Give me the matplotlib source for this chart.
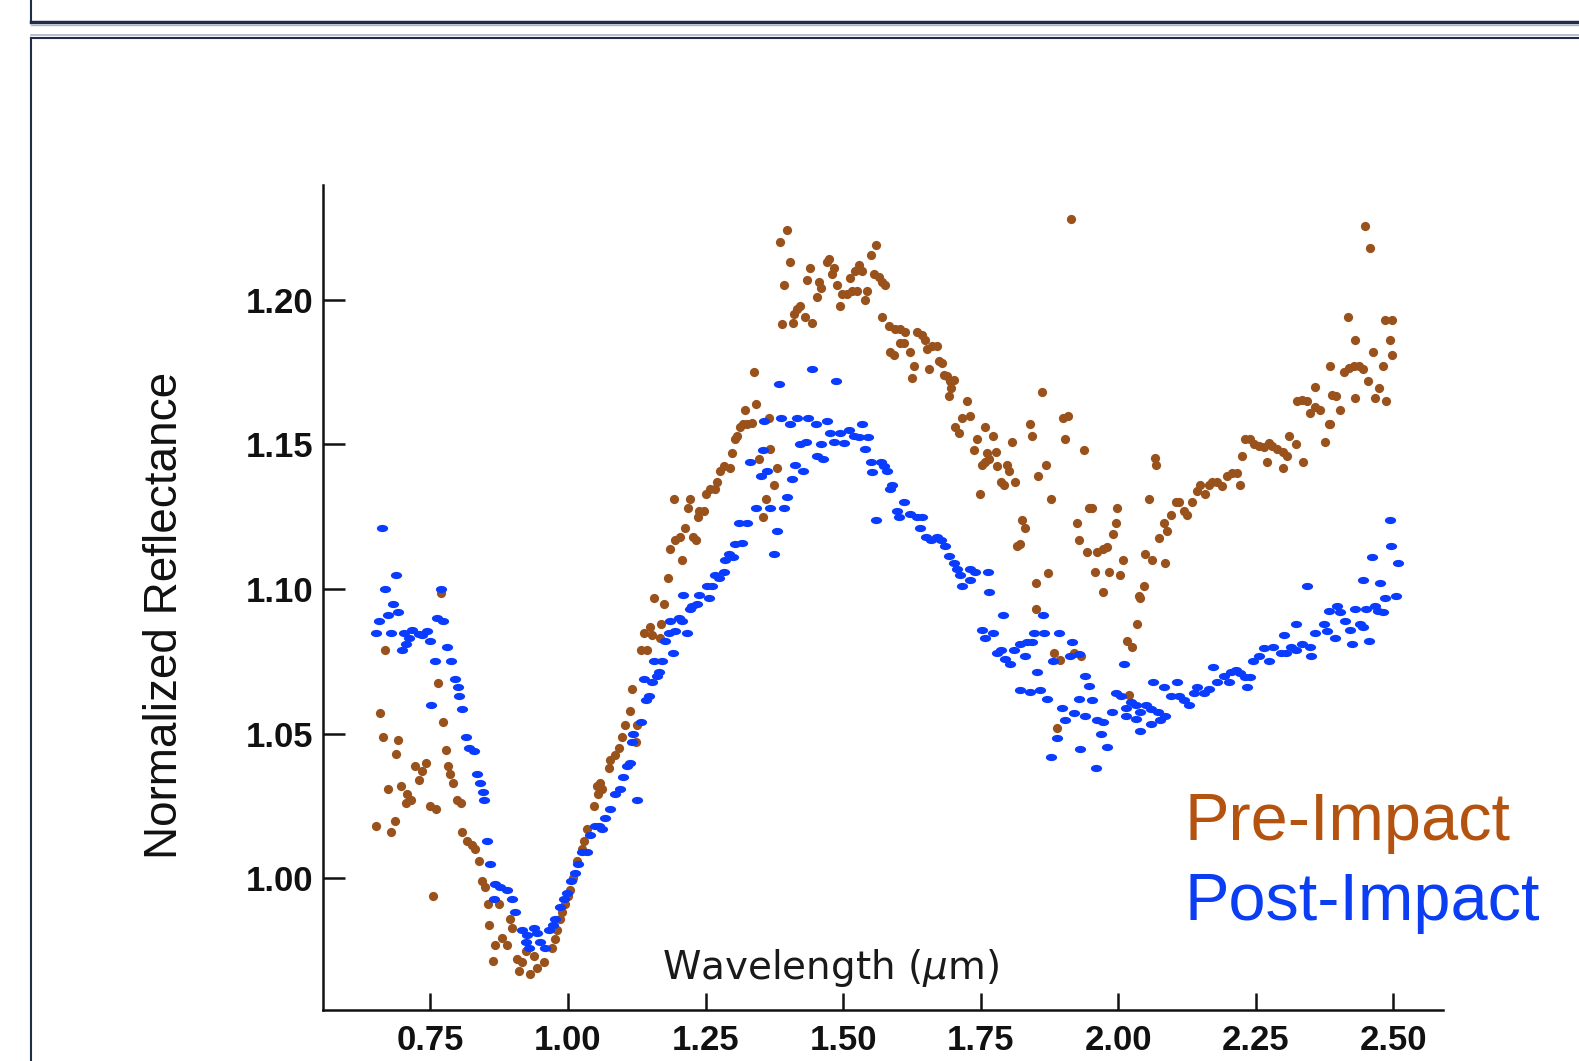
import numpy as np
import matplotlib
matplotlib.use("Agg")
import matplotlib.pyplot as plt
from matplotlib.markers import MarkerStyle
from matplotlib.transforms import Affine2D
from matplotlib.lines import Line2D

# spectra (wavelength in um, normalized reflectance)
pre_pts = [
    (0.769, 1.0985), (0.667, 1.079), (0.764, 1.0675), (0.659, 1.057), (0.664, 1.049),
    (0.692, 1.048), (0.773, 1.054), (0.688, 1.043), (0.779, 1.0445), (0.723, 1.039),
    (0.743, 1.040), (0.735, 1.037), (0.729, 1.034), (0.783, 1.039), (0.786, 1.036),
    (0.792, 1.033), (0.673, 1.031), (0.697, 1.032), (0.708, 1.029), (0.714, 1.027),
    (0.705, 1.026), (0.749, 1.025), (0.761, 1.024), (0.798, 1.027), (0.805, 1.026),
    (0.652, 1.018), (0.685, 1.020), (0.679, 1.016), (0.808, 1.016), (0.817, 1.013),
    (0.826, 1.0115), (0.832, 1.010), (0.838, 1.006), (0.755, 0.994), (0.844, 0.999),
    (0.850, 0.997), (0.855, 0.991), (0.874, 0.991), (0.894, 0.986), (0.899, 0.983),
    (0.857, 0.984), (0.868, 0.977), (0.880, 0.9795), (0.889, 0.977), (0.863, 0.9715),
    (0.908, 0.972), (0.917, 0.971), (0.923, 0.975), (0.911, 0.968), (0.932, 0.967),
    (0.944, 0.969), (0.956, 0.971), (0.938, 0.973), (0.971, 0.976), (0.977, 0.979),
    (0.980, 0.982), (0.986, 0.986), (0.989, 0.9885), (0.995, 0.991), (1.001, 0.994),
    (1.004, 0.996), (1.010, 1.000), (1.017, 1.006), (1.026, 1.010), (1.029, 1.013),
    (1.035, 1.017), (1.047, 1.025), (1.054, 1.029), (1.053, 1.032), (1.062, 1.031),
    (1.059, 1.033), (1.074, 1.038), (1.077, 1.041), (1.086, 1.0425), (1.092, 1.045),
    (1.098, 1.049), (1.104, 1.053), (1.112, 1.058), (1.126, 1.053), (1.124, 1.047),
    (1.116, 1.0655), (1.132, 1.079), (1.144, 1.079), (1.138, 1.085), (1.150, 1.087),
    (1.153, 1.084), (1.168, 1.083), (1.169, 1.088), (1.156, 1.097), (1.175, 1.095),
    (1.181, 1.104), (1.207, 1.110), (1.186, 1.114), (1.195, 1.117), (1.203, 1.118),
    (1.213, 1.121), (1.228, 1.118), (1.233, 1.117), (1.193, 1.131), (1.221, 1.131),
    (1.219, 1.128), (1.239, 1.127), (1.237, 1.125), (1.247, 1.127), (1.250, 1.133),
    (1.259, 1.1345), (1.268, 1.1345), (1.271, 1.137), (1.277, 1.141), (1.283, 1.1425),
    (1.294, 1.142), (1.298, 1.147), (1.304, 1.152), (1.307, 1.153), (1.313, 1.156),
    (1.319, 1.157), (1.325, 1.157), (1.334, 1.1575), (1.321, 1.162), (1.342, 1.164),
    (1.339, 1.175), (1.366, 1.159), (1.368, 1.1485), (1.348, 1.145), (1.380, 1.142),
    (1.374, 1.136), (1.360, 1.131), (1.354, 1.125),
    (1.398, 1.224), (1.385, 1.220), (1.404, 1.213), (1.439, 1.211), (1.393, 1.205),
    (1.435, 1.207), (1.457, 1.206), (1.460, 1.204), (1.453, 1.201), (1.422, 1.198),
    (1.416, 1.197), (1.410, 1.195), (1.431, 1.194), (1.444, 1.192), (1.409, 1.192),
    (1.389, 1.1916), (1.474, 1.214), (1.471, 1.213), (1.483, 1.211), (1.480, 1.209),
    (1.489, 1.205), (1.494, 1.198), (1.498, 1.202), (1.507, 1.202), (1.516, 1.203),
    (1.525, 1.203), (1.513, 1.2075), (1.522, 1.210), (1.528, 1.212), (1.534, 1.210),
    (1.540, 1.200), (1.543, 1.203), (1.550, 1.2155), (1.559, 1.219), (1.556, 1.209),
    (1.565, 1.208), (1.571, 1.206), (1.577, 1.205), (1.571, 1.194), (1.583, 1.191),
    (1.595, 1.190), (1.604, 1.190), (1.613, 1.189), (1.604, 1.185), (1.610, 1.185),
    (1.586, 1.182), (1.592, 1.181), (1.622, 1.182), (1.634, 1.189), (1.643, 1.188),
    (1.649, 1.186), (1.652, 1.183), (1.661, 1.184), (1.671, 1.184), (1.628, 1.177),
    (1.625, 1.173), (1.656, 1.176), (1.674, 1.179), (1.680, 1.178), (1.683, 1.174),
    (1.689, 1.1736), (1.695, 1.172), (1.701, 1.1724), (1.696, 1.1695), (1.692, 1.1667),
    (1.725, 1.165), (1.731, 1.160), (1.716, 1.159), (1.704, 1.156), (1.710, 1.154),
    (1.743, 1.152), (1.758, 1.156), (1.773, 1.153), (1.737, 1.148), (1.761, 1.147),
    (1.777, 1.1474), (1.765, 1.145), (1.758, 1.144), (1.752, 1.143), (1.780, 1.1425),
    (1.798, 1.143), (1.801, 1.141), (1.786, 1.137), (1.792, 1.136), (1.813, 1.137),
    (1.807, 1.151), (1.839, 1.157), (1.843, 1.153), (1.861, 1.168), (1.854, 1.139),
    (1.748, 1.133), (1.825, 1.124), (1.831, 1.121), (1.822, 1.1155), (1.816, 1.115),
    (1.850, 1.102), (1.900, 1.159), (1.908, 1.160), (1.904, 1.152), (1.938, 1.148),
    (1.868, 1.143), (1.877, 1.131), (1.946, 1.128), (1.952, 1.128), (1.997, 1.128),
    (1.925, 1.123), (1.928, 1.117), (1.996, 1.123), (1.990, 1.119), (1.943, 1.113),
    (1.961, 1.113), (1.973, 1.114), (1.979, 1.1144), (2.008, 1.110), (1.958, 1.106),
    (1.984, 1.106), (2.004, 1.105), (1.973, 1.099), (1.873, 1.1054), (1.851, 1.093),
    (1.883, 1.078), (1.895, 1.0755), (1.919, 1.078), (1.932, 1.077), (1.889, 1.052),
    (2.020, 1.0634), (2.034, 1.088), (2.016, 1.082), (2.025, 1.080), (2.037, 1.0975),
    (1.914, 1.228), (2.449, 1.2255), (2.457, 1.218), (2.066, 1.1454), (2.069, 1.1428),
    (2.055, 1.131), (2.049, 1.112), (2.061, 1.110), (2.084, 1.109), (2.046, 1.101),
    (2.040, 1.097), (2.074, 1.1175), (2.083, 1.123), (2.089, 1.120), (2.095, 1.1255),
    (2.104, 1.130), (2.110, 1.130), (2.119, 1.127), (2.125, 1.1255), (2.134, 1.130),
    (2.143, 1.134), (2.149, 1.136), (2.158, 1.133), (2.164, 1.136), (2.170, 1.137),
    (2.179, 1.137), (2.188, 1.1356), (2.197, 1.139), (2.206, 1.140), (2.215, 1.140),
    (2.222, 1.136), (2.225, 1.146), (2.231, 1.152), (2.240, 1.152), (2.246, 1.150),
    (2.255, 1.1494), (2.264, 1.149), (2.273, 1.1506), (2.279, 1.1494), (2.288, 1.1485),
    (2.300, 1.1474), (2.307, 1.146), (2.270, 1.144), (2.300, 1.142), (2.311, 1.153),
    (2.322, 1.150), (2.336, 1.144), (2.325, 1.165), (2.334, 1.1655), (2.343, 1.165),
    (2.349, 1.161), (2.358, 1.163), (2.367, 1.162), (2.357, 1.170), (2.376, 1.151),
    (2.382, 1.157), (2.385, 1.157), (2.384, 1.177), (2.389, 1.167), (2.395, 1.1666),
    (2.403, 1.162), (2.410, 1.175), (2.419, 1.1766), (2.428, 1.177), (2.437, 1.177),
    (2.445, 1.176), (2.431, 1.166), (2.454, 1.172), (2.463, 1.182), (2.467, 1.166),
    (2.473, 1.1695), (2.481, 1.177), (2.487, 1.165), (2.418, 1.194), (2.430, 1.186),
    (2.485, 1.193), (2.497, 1.193), (2.493, 1.186), (2.497, 1.181),
]

post_pts = [
    (0.662, 1.121), (0.688, 1.105), (0.668, 1.100), (0.682, 1.095), (0.656, 1.089),
    (0.674, 1.091), (0.692, 1.092), (0.652, 1.085), (0.679, 1.085), (0.702, 1.085),
    (0.717, 1.086), (0.729, 1.0845), (0.735, 1.084), (0.744, 1.0856), (0.711, 1.083),
    (0.705, 1.081), (0.699, 1.079), (0.750, 1.082), (0.769, 1.100), (0.763, 1.090),
    (0.773, 1.089), (0.780, 1.080), (0.759, 1.075), (0.788, 1.075), (0.794, 1.069),
    (0.800, 1.066), (0.802, 1.063), (0.752, 1.060), (0.808, 1.0586), (0.814, 1.049),
    (0.820, 1.045), (0.829, 1.044), (0.834, 1.036), (0.840, 1.033), (0.845, 1.030),
    (0.847, 1.027), (0.853, 1.013), (0.858, 1.005), (0.868, 0.998), (0.877, 0.997),
    (0.889, 0.996), (0.865, 0.993), (0.899, 0.993), (0.903, 0.9885), (0.917, 0.982),
    (0.926, 0.9805), (0.938, 0.983), (0.944, 0.981), (0.924, 0.978), (0.929, 0.976),
    (0.950, 0.978), (0.959, 0.976), (0.965, 0.982), (0.973, 0.984), (0.977, 0.986),
    (0.986, 0.990), (0.992, 0.993), (0.998, 0.995), (1.006, 0.999), (1.013, 1.002),
    (1.019, 1.005), (1.026, 1.009), (1.035, 1.009), (1.041, 1.015), (1.050, 1.018),
    (1.056, 1.018), (1.062, 1.017), (1.068, 1.021), (1.077, 1.024), (1.086, 1.029),
    (1.095, 1.031), (1.100, 1.035), (1.126, 1.027), (1.107, 1.039), (1.113, 1.040),
    (1.116, 1.047), (1.119, 1.050), (1.132, 1.054), (1.141, 1.0615), (1.147, 1.063),
    (1.138, 1.069), (1.153, 1.068), (1.165, 1.0715), (1.162, 1.070), (1.156, 1.075),
    (1.171, 1.075), (1.191, 1.078), (1.177, 1.082), (1.183, 1.085), (1.195, 1.0856),
    (1.216, 1.085), (1.186, 1.089), (1.201, 1.090), (1.207, 1.089), (1.222, 1.093),
    (1.225, 1.094), (1.210, 1.098), (1.235, 1.095), (1.239, 1.098), (1.256, 1.097),
    (1.253, 1.101), (1.262, 1.101), (1.268, 1.105), (1.274, 1.104), (1.283, 1.106),
    (1.286, 1.110), (1.292, 1.112), (1.300, 1.111), (1.304, 1.1155), (1.316, 1.116),
    (1.310, 1.123), (1.325, 1.123), (1.374, 1.112), (1.380, 1.120), (1.342, 1.128),
    (1.368, 1.128), (1.392, 1.128), (1.398, 1.132), (1.350, 1.139), (1.362, 1.141),
    (1.331, 1.144), (1.355, 1.148), (1.356, 1.158), (1.387, 1.159), (1.404, 1.157),
    (1.417, 1.159), (1.437, 1.159), (1.407, 1.138), (1.428, 1.141), (1.413, 1.143),
    (1.422, 1.150), (1.433, 1.151), (1.383, 1.171), (1.444, 1.176), (1.487, 1.172),
    (1.451, 1.157), (1.471, 1.158), (1.459, 1.150), (1.452, 1.146), (1.463, 1.145),
    (1.477, 1.154), (1.483, 1.151), (1.495, 1.154), (1.510, 1.155), (1.519, 1.153),
    (1.528, 1.1526), (1.534, 1.157), (1.545, 1.1526), (1.501, 1.1506), (1.539, 1.1485),
    (1.550, 1.144), (1.568, 1.144), (1.574, 1.1426), (1.580, 1.141), (1.553, 1.1406),
    (1.589, 1.136), (1.585, 1.1345), (1.559, 1.124), (1.610, 1.130), (1.598, 1.127),
    (1.601, 1.125), (1.622, 1.126), (1.634, 1.125), (1.643, 1.125), (1.640, 1.121),
    (1.650, 1.118), (1.659, 1.117), (1.671, 1.118), (1.677, 1.117), (1.686, 1.115),
    (1.692, 1.1115), (1.701, 1.109), (1.707, 1.107), (1.713, 1.105), (1.731, 1.107),
    (1.740, 1.106), (1.764, 1.106), (1.716, 1.101), (1.731, 1.103), (1.766, 1.099),
    (1.791, 1.091), (1.752, 1.086), (1.773, 1.085), (1.758, 1.083), (1.786, 1.079),
    (1.780, 1.078), (1.795, 1.076), (1.804, 1.074), (1.810, 1.079), (1.822, 1.081),
    (1.834, 1.0816), (1.843, 1.0816), (1.831, 1.077), (1.847, 1.085), (1.865, 1.085),
    (1.892, 1.085), (1.863, 1.091), (1.916, 1.0816), (1.913, 1.077), (1.928, 1.0776),
    (1.882, 1.075), (1.852, 1.0715), (1.822, 1.065), (1.840, 1.0644), (1.857, 1.065),
    (1.870, 1.062), (1.898, 1.059), (1.919, 1.057), (1.904, 1.0546), (1.889, 1.0486),
    (1.877, 1.042), (1.931, 1.0446), (1.939, 1.070), (1.946, 1.0665), (1.928, 1.062),
    (1.952, 1.0616), (1.940, 1.056), (1.961, 1.0546), (1.973, 1.054), (1.968, 1.050),
    (1.980, 1.0455), (1.959, 1.038), (1.989, 1.0575), (1.996, 1.064), (2.005, 1.063),
    (2.014, 1.059), (2.024, 1.061), (2.033, 1.060), (2.039, 1.0575), (2.014, 1.056),
    (2.033, 1.055), (2.039, 1.051), (2.011, 1.074), (2.051, 1.060), (2.060, 1.0586),
    (2.072, 1.0575), (2.084, 1.056), (2.075, 1.0546), (2.060, 1.0534), (2.063, 1.068),
    (2.083, 1.066), (2.095, 1.063), (2.107, 1.068), (2.110, 1.063), (2.119, 1.0615),
    (2.128, 1.060), (2.137, 1.064), (2.143, 1.066), (2.155, 1.064), (2.164, 1.0655),
    (2.172, 1.073), (2.179, 1.068), (2.192, 1.070), (2.204, 1.0715), (2.213, 1.072),
    (2.222, 1.071), (2.231, 1.0695), (2.240, 1.0695), (2.234, 1.066), (2.201, 1.068),
    (2.245, 1.075), (2.255, 1.077), (2.264, 1.0795), (2.273, 1.075), (2.282, 1.080),
    (2.295, 1.078), (2.304, 1.078), (2.313, 1.080), (2.322, 1.079), (2.334, 1.081),
    (2.349, 1.080), (2.351, 1.077), (2.302, 1.084), (2.322, 1.088), (2.342, 1.101),
    (2.358, 1.085), (2.373, 1.088), (2.379, 1.0856), (2.382, 1.0925), (2.397, 1.094),
    (2.403, 1.092), (2.394, 1.083), (2.412, 1.089), (2.421, 1.086), (2.424, 1.081),
    (2.430, 1.093), (2.439, 1.088), (2.445, 1.087), (2.451, 1.093), (2.456, 1.082),
    (2.466, 1.094), (2.472, 1.0925), (2.481, 1.092), (2.485, 1.097), (2.504, 1.0975),
    (2.445, 1.103), (2.475, 1.102), (2.461, 1.111), (2.493, 1.124), (2.496, 1.115),
    (2.508, 1.109),
]

x_ticks = [0.75, 1.00, 1.25, 1.50, 1.75, 2.00, 2.25, 2.50]
y_ticks = [1.00, 1.05, 1.10, 1.15, 1.20]
series_names = ["Pre-Impact", "Post-Impact"]

pre = np.array(pre_pts)
post = np.array(post_pts)

brown = "#9a521c"
blue = "#0a3cff"

fig = plt.figure(figsize=(15.79, 10.61), dpi=100)
fig.patch.set_facecolor("white")

# slide frame lines around the chart
W, H = 1579.0, 1061.0
frame = "#1f2d4a"
fig.add_artist(Line2D([31 / W, 1], [1 - 22 / H, 1 - 22 / H], color=frame, lw=2.5))
fig.add_artist(Line2D([31 / W, 1], [1 - 24.5 / H, 1 - 24.5 / H], color="#aab4c4", lw=1))
fig.add_artist(Line2D([31 / W, 1], [1 - 35 / H, 1 - 35 / H], color="#aab4c4", lw=1.2))
fig.add_artist(Line2D([31 / W, 1], [1 - 37.5 / H, 1 - 37.5 / H], color=frame, lw=1.5))
fig.add_artist(Line2D([31 / W, 31 / W], [1, 1 - 22 / H], color=frame, lw=1.5))
fig.add_artist(Line2D([31 / W, 31 / W], [1 - 37.5 / H, 0], color=frame, lw=1.5))

ax = fig.add_axes([323 / W, 1 - 1010 / H, 1120 / W, 825 / H])

pre_marker = MarkerStyle("o")
post_marker = MarkerStyle("o", transform=Affine2D().scale(1.25, 0.8))
ax.scatter(pre[:, 0], pre[:, 1], s=44, marker=pre_marker, color=brown, linewidths=0)
ax.scatter(post[:, 0], post[:, 1], s=42, marker=post_marker, color=blue, linewidths=0)

ax.set_xlim(0.555, 2.59)
ax.set_ylim(0.9545, 1.2397)
ax.set_xticks(x_ticks)
ax.set_xticklabels(["%.2f" % v for v in x_ticks])
ax.set_yticks(y_ticks)
ax.set_yticklabels(["%.2f" % v for v in y_ticks])

for side in ["top", "right"]:
    ax.spines[side].set_visible(False)
for side in ["left", "bottom"]:
    ax.spines[side].set_linewidth(1.8)
    ax.spines[side].set_color("#111111")

ax.tick_params(axis="y", direction="in", length=16, width=1.8, pad=7,
               labelsize=25, colors="#111111")
ax.tick_params(axis="x", direction="in", length=12, width=1.8, pad=10,
               labelsize=25, colors="#111111")
for lab in ax.get_xticklabels() + ax.get_yticklabels():
    lab.set_family("Liberation Sans")
    lab.set_fontweight("bold")

ax.text(0.4527, 0.0515, r"Wavelength ($\mu$m)", transform=ax.transAxes,
        ha="center", va="center", fontsize=28, family="DejaVu Sans", color="#1a1a1a")

fig.text(165 / W, 1 - 615 / H, "Normalized Reflectance", rotation=90,
         ha="center", va="center", fontsize=33, family="Liberation Sans", color="#111111")

fig.text(1185 / W, 1 - 823 / H, series_names[0], ha="left", va="center",
         fontsize=48, family="Liberation Sans", color="#b4530f")
fig.text(1185 / W, 1 - 903 / H, series_names[1], ha="left", va="center",
         fontsize=48, family="Liberation Sans", color="#0b3df2")

fig.savefig("out.png", dpi=100, facecolor="white")
